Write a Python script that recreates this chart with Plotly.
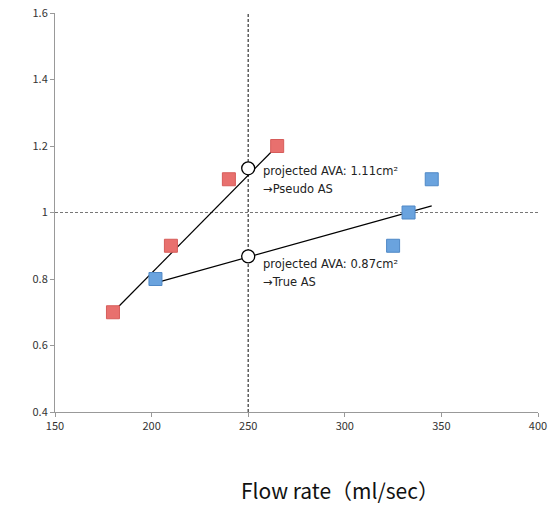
import plotly.graph_objects as go

# data
red_x = [180, 210, 240, 265]
red_y = [0.7, 0.9, 1.1, 1.2]
blue_x = [202, 325, 333, 345]
blue_y = [0.8, 0.9, 1.0, 1.1]
red_fit_x = [180, 265]
red_fit_y = [0.7, 1.2]
blue_fit_x = [203, 345]
blue_fit_y = [0.79, 1.02]
proj_x = [250, 250]
proj_y = [1.133, 0.868]
x_ticks = [150, 200, 250, 300, 350, 400]
y_ticks = [0.4, 0.6, 0.8, 1.0, 1.2, 1.4, 1.6]
y_tick_text = ["0.4", "0.6", "0.8", "1", "1.2", "1.4", "1.6"]
ref_flow = 250
ref_ava = 1.0
label_lines = [
    ("projected AVA: 1.11cm²", 1.126),
    ("→Pseudo AS", 1.072),
    ("projected AVA: 0.87cm²", 0.845),
    ("→True AS", 0.791),
]

FONT = "Noto Sans CJK JP"

fig = go.Figure()
fig.add_trace(go.Scatter(x=red_fit_x, y=red_fit_y, mode="lines",
                         line=dict(color="black", width=1.2), showlegend=False))
fig.add_trace(go.Scatter(x=blue_fit_x, y=blue_fit_y, mode="lines",
                         line=dict(color="black", width=1.2), showlegend=False))
fig.add_trace(go.Scatter(x=red_x, y=red_y, mode="markers",
                         marker=dict(symbol="square", size=13, color="#e8706e",
                                     line=dict(color="#d65c5a", width=1)),
                         showlegend=False))
fig.add_trace(go.Scatter(x=blue_x, y=blue_y, mode="markers",
                         marker=dict(symbol="square", size=13, color="#6aa3de",
                                     line=dict(color="#4f88c6", width=1)),
                         showlegend=False))

fig.add_shape(type="line", x0=ref_flow, x1=ref_flow, y0=0.4, y1=1.6, xref="x", yref="y",
              line=dict(color="#444444", width=1.3, dash="3px,2px"), layer="below")
fig.add_shape(type="line", x0=150, x1=400, y0=ref_ava, y1=ref_ava, xref="x", yref="y",
              line=dict(color="#777777", width=1.1, dash="3px,2px"), layer="below")

fig.add_trace(go.Scatter(x=proj_x, y=proj_y, mode="markers",
                         marker=dict(symbol="circle", size=13, color="white",
                                     line=dict(color="black", width=1.3)),
                         showlegend=False))

for txt, yy in label_lines:
    fig.add_annotation(x=ref_flow, y=yy, xref="x", yref="y", text=txt, showarrow=False,
                       xanchor="left", yanchor="middle", align="left", xshift=14,
                       borderpad=0,
                       font=dict(family="DejaVu Sans", size=11.5, color="#222222"))

fig.add_annotation(x=0.59, y=-0.196, xref="paper", yref="paper", yanchor="middle",
                   xanchor="center",
                   text="Flow rate（ml/sec）", showarrow=False,
                   font=dict(family=FONT, size=21, color="#111111"))

axis_common = dict(showgrid=False, zeroline=False, showline=True, linecolor="#999999",
                   linewidth=1, ticks="outside", ticklen=4, tickcolor="#999999",
                   automargin=False,
                   tickfont=dict(family=FONT, size=11, color="#333333"))
fig.update_xaxes(range=[150, 400], tickvals=x_ticks, **axis_common)
fig.update_yaxes(range=[0.4, 1.6], tickvals=y_ticks, ticktext=y_tick_text, **axis_common)

fig.update_layout(width=555, height=513, margin=dict(l=55, r=17, t=13, b=101),
                  plot_bgcolor="white", paper_bgcolor="white")
fig.write_html("out.html")
